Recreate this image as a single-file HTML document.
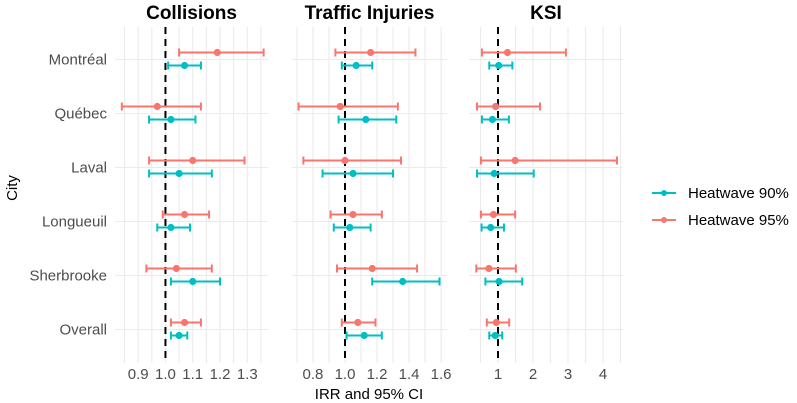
<!DOCTYPE html>
<html><head><meta charset="utf-8"><style>
html,body{margin:0;padding:0;background:#fff;}
svg{display:block;font-family:"Liberation Sans",Arial,sans-serif;}
</style></head><body>
<svg id="chart" width="797" height="403" viewBox="0 0 797 403"></svg>
<script>
const cities = ["Montréal","Québec","Laval","Longueuil","Sherbrooke","Overall"];
const panelTitles = ["Collisions","Traffic Injuries","KSI"];
const seriesNames = ["Heatwave 90%","Heatwave 95%"];
// Collisions
const col90_est = [1.07,1.02,1.05,1.02,1.10,1.05];
const col90_lo  = [1.01,0.94,0.94,0.97,1.02,1.02];
const col90_hi  = [1.13,1.11,1.17,1.09,1.20,1.08];
const col95_est = [1.19,0.97,1.10,1.07,1.04,1.07];
const col95_lo  = [1.05,0.84,0.94,0.99,0.93,1.02];
const col95_hi  = [1.36,1.13,1.29,1.16,1.17,1.13];
// Traffic injuries
const inj90_est = [1.07,1.13,1.05,1.03,1.36,1.12];
const inj90_lo  = [0.98,0.96,0.86,0.93,1.17,1.01];
const inj90_hi  = [1.17,1.32,1.30,1.16,1.59,1.23];
const inj95_est = [1.16,0.97,1.00,1.05,1.17,1.08];
const inj95_lo  = [0.94,0.71,0.74,0.91,0.95,0.98];
const inj95_hi  = [1.44,1.33,1.35,1.23,1.45,1.19];
// KSI
const ksi90_est = [1.02,0.84,0.89,0.79,1.03,0.92];
const ksi90_lo  = [0.75,0.54,0.40,0.53,0.64,0.75];
const ksi90_hi  = [1.41,1.31,2.02,1.17,1.69,1.12];
const ksi95_est = [1.27,0.93,1.49,0.87,0.74,0.95];
const ksi95_lo  = [0.54,0.40,0.51,0.51,0.38,0.68];
const ksi95_hi  = [2.94,2.20,4.40,1.49,1.51,1.32];
const colTicks = [0.9,1.0,1.1,1.2,1.3];
const colTickLabels = ["0.9","1.0","1.1","1.2","1.3"];
const injTicks = [0.8,1.0,1.2,1.4,1.6];
const injTickLabels = ["0.8","1.0","1.2","1.4","1.6"];
const ksiTicks = [1,2,3,4];
const ksiTickLabels = ["1","2","3","4"];

const NS="http://www.w3.org/2000/svg";
const svg=document.getElementById('chart');
const C90="#00BFC4", C95="#F8766D";
function mk(tag,attrs,parent){const e=document.createElementNS(NS,tag);for(const k in attrs)e.setAttribute(k,attrs[k]);(parent||svg).appendChild(e);return e;}

const plotTop=27, plotBottom=363, rowStep=54, row0=59.5;
function yPos(i){return row0+i*rowStep;}

const panels=[
 {x0:115,x1:268,d0:0.815,d1:1.376,ticks:colTicks,labels:colTickLabels,minor:0.05,
  s90:[col90_est,col90_lo,col90_hi],s95:[col95_est,col95_lo,col95_hi]},
 {x0:292,x1:447,d0:0.669,d1:1.637,ticks:injTicks,labels:injTickLabels,minor:0.1,
  s90:[inj90_est,inj90_lo,inj90_hi],s95:[inj95_est,inj95_lo,inj95_hi]},
 {x0:469,x1:623,d0:0.171,d1:4.571,ticks:ksiTicks,labels:ksiTickLabels,minor:0.5,
  s90:[ksi90_est,ksi90_lo,ksi90_hi],s95:[ksi95_est,ksi95_lo,ksi95_hi]}
];

panels.forEach((p,pi)=>{
  const sx=v=>p.x0+(v-p.d0)/(p.d1-p.d0)*(p.x1-p.x0);
  const g=mk('g',{});
  
  
  const start=Math.ceil(p.d0/p.minor-1e-6)*p.minor;
  for(let v=start;v<=p.d1+1e-9;v+=p.minor){
    const l=mk('line',{x1:sx(v),x2:sx(v),y1:plotTop,y2:plotBottom,stroke:"#ebebeb","stroke-width":1.1},g);
    
    
  }
  cities.forEach((c,i)=>{
    const l=mk('line',{x1:p.x0,x2:p.x1,y1:yPos(i),y2:yPos(i),stroke:"#ebebeb","stroke-width":1.1},g);
    
    
  });
  p.ticks.forEach((t,k)=>{
    const tx=mk('text',{x:sx(t),y:379,"text-anchor":"middle","font-size":15,fill:"#4d4d4d"},g);
    tx.textContent=p.labels[k];
    
    
  });
  const ref=mk('line',{x1:sx(1),x2:sx(1),y1:plotTop,y2:plotBottom,stroke:"#000","stroke-width":2,"stroke-dasharray":"7,5"},g);
  
  
  const tt=mk('text',{x:(p.x0+p.x1)/2,y:19,"text-anchor":"middle","font-size":19,"font-weight":"bold",fill:"#000"},g);
  tt.textContent=panelTitles[pi];
  
  
  [[p.s95,C95,-7,'heatwave-95'],[p.s90,C90,6,'heatwave-90']].forEach(([s,col,off,nm])=>{
    cities.forEach((c,i)=>{
      const y=yPos(i)+off;
      const eg=mk('g',{},g);
      
      
      const a=sx(s[1][i]), b=sx(s[2][i]);
      mk('line',{x1:a,x2:b,y1:y,y2:y,stroke:col,"stroke-width":2},eg);
      mk('line',{x1:a,x2:a,y1:y-4,y2:y+4,stroke:col,"stroke-width":2},eg);
      mk('line',{x1:b,x2:b,y1:y-4,y2:y+4,stroke:col,"stroke-width":2},eg);
      mk('circle',{cx:sx(s[0][i]),cy:y,r:3.6,fill:col},eg);
    });
  });
});

cities.forEach((c,i)=>{
  const t=mk('text',{x:107,y:yPos(i)+5,"text-anchor":"end","font-size":15,fill:"#4d4d4d"});
  t.textContent=c;
  
  
});
const yt=mk('text',{x:17,y:188,"text-anchor":"middle","font-size":15,fill:"#000",transform:"rotate(-90 17 188)"});
yt.textContent="City";


const xt=mk('text',{x:369,y:399,"text-anchor":"middle","font-size":15,fill:"#000"});
xt.textContent="IRR and 95% CI";



[[C90,193,seriesNames[0]],[C95,220,seriesNames[1]]].forEach(([col,y,lab])=>{
  const g=mk('g',{});
  
  
  mk('line',{x1:652,x2:676,y1:y,y2:y,stroke:col,"stroke-width":2},g);
  mk('circle',{cx:664,cy:y,r:3,fill:col},g);
  const t=mk('text',{x:688,y:y+5,"font-size":15,fill:"#000"},g);
  t.textContent=lab;
});
</script>
</body></html>
